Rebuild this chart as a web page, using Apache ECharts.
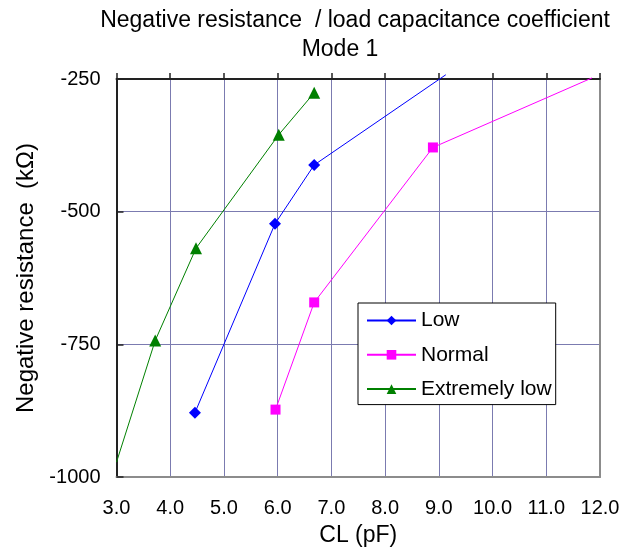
<!DOCTYPE html>
<html>
<head>
<meta charset="utf-8">
<script src="https://cdn.jsdelivr.net/npm/echarts@6/dist/echarts.min.js"></script>
<style>
html,body{margin:0;padding:0;background:#fff;}
#chart{width:636px;height:552px;}
</style>
</head>
<body>
<div id="chart"></div>
<script>
// Data: [CL (pF), negative resistance (kΩ)]
const titleLine1 = 'Negative resistance  / load capacitance coefficient';
const titleLine2 = 'Mode 1';
const xName = 'CL (pF)';
const yName = 'Negative resistance  (kΩ)';
const seriesNames = ['Low', 'Normal', 'Extremely low'];
const lowData = [[4.46, -879], [5.95, -523], [6.68, -412], [9.13, -242]];
const normalData = [[5.96, -873], [6.68, -671], [8.89, -379], [11.85, -248]];
const extremelyLowData = [[3.0, -972], [3.72, -743], [4.48, -569], [6.02, -355], [6.68, -276]];
// index of points drawn as line ends only (no marker)
const lowHidden = [3];
const normalHidden = [3];
const extremelyLowHidden = [0];
const xTicks = { min: 3, max: 12, step: 1 };
const yTicks = { min: -1000, max: -250, step: 250 };

const FONT = 'Liberation Sans, Arial, sans-serif';
const GRID = '#7b7bb0';

function toItems(arr, hidden) {
  return arr.map((p, i) => hidden.indexOf(i) >= 0 ? { value: p, symbol: 'none' } : { value: p });
}

const chart = echarts.init(document.getElementById('chart'), null, { renderer: 'canvas' });
chart.setOption({
  animation: false,
  backgroundColor: '#fff',
  textStyle: { fontFamily: FONT },
  title: [
    {
      text: titleLine1, left: 350, top: 4, textAlign: 'center',
      textStyle: { fontFamily: FONT, fontSize: 23, fontWeight: 'normal', color: '#000' }
    },
    {
      text: titleLine2, left: 335, top: 33, textAlign: 'center',
      textStyle: { fontFamily: FONT, fontSize: 23, fontWeight: 'normal', color: '#000' }
    }
  ],
  grid: { left: 116.5, right: 36, top: 79, bottom: 75, containLabel: false },
  legend: {
    orient: 'vertical',
    left: 358, top: 303,
    itemWidth: 49, itemHeight: 12, itemGap: 13.3,
    padding: [7, 4, 5, 8],
    borderColor: '#000', borderWidth: 1,
    backgroundColor: '#fff',
    textStyle: { fontFamily: FONT, fontSize: 21, lineHeight: 20, color: '#000' },
    data: seriesNames
  },
  xAxis: [
    {
      type: 'value', position: 'bottom', min: xTicks.min, max: xTicks.max, interval: xTicks.step,
      name: xName, nameLocation: 'middle', nameGap: 47,
      nameTextStyle: { fontFamily: FONT, fontSize: 23, color: '#000' },
      axisLine: { show: true, lineStyle: { color: '#8c8c8c', width: 2 } },
      axisTick: { show: false },
      axisLabel: { margin: 21, fontFamily: FONT, fontSize: 20, color: '#000', formatter: v => v.toFixed(1) },
      splitLine: { show: true, lineStyle: { color: GRID, width: 1 } }
    },
    {
      type: 'value', position: 'top', min: xTicks.min, max: xTicks.max, interval: xTicks.step,
      axisLine: { show: true, onZero: false, lineStyle: { color: '#222', width: 2 } },
      axisTick: { show: true, inside: false, length: 6, lineStyle: { color: '#222', width: 1.5 } },
      axisLabel: { show: false },
      splitLine: { show: false }
    }
  ],
  yAxis: [
    {
      type: 'value', position: 'left', min: yTicks.min, max: yTicks.max, interval: yTicks.step,
      name: yName, nameLocation: 'middle', nameGap: 78, nameRotate: 90,
      nameTextStyle: { fontFamily: FONT, fontSize: 24, color: '#000' },
      axisLine: { show: true, onZero: false, lineStyle: { color: '#222', width: 2 } },
      axisTick: { show: true, inside: true, length: 7, lineStyle: { color: '#222', width: 1.5 } },
      axisLabel: { margin: 16, fontFamily: FONT, fontSize: 20, color: '#000', formatter: v => String(v) },
      splitLine: { show: true, lineStyle: { color: GRID, width: 1 } }
    },
    {
      type: 'value', position: 'right', min: yTicks.min, max: yTicks.max, interval: yTicks.step,
      axisLine: { show: true, onZero: false, lineStyle: { color: '#8c8c8c', width: 2 } },
      axisTick: { show: false }, axisLabel: { show: false }, splitLine: { show: false }
    }
  ],
  series: [
    {
      name: seriesNames[0], type: 'line', data: toItems(lowData, lowHidden), clip: false,
      symbol: 'diamond', symbolSize: 12,
      lineStyle: { color: '#0000ff', width: 1 }, itemStyle: { color: '#0000ff' }, z: 3
    },
    {
      name: seriesNames[1], type: 'line', data: toItems(normalData, normalHidden), clip: false,
      symbol: 'rect', symbolSize: 10,
      lineStyle: { color: '#ff00ff', width: 1 }, itemStyle: { color: '#ff00ff' }, z: 3
    },
    {
      name: seriesNames[2], type: 'line', data: toItems(extremelyLowData, extremelyLowHidden), clip: false,
      symbol: 'triangle', symbolSize: 12,
      lineStyle: { color: '#008000', width: 1 }, itemStyle: { color: '#008000' }, z: 3
    }
  ]
});
</script>
</body>
</html>
